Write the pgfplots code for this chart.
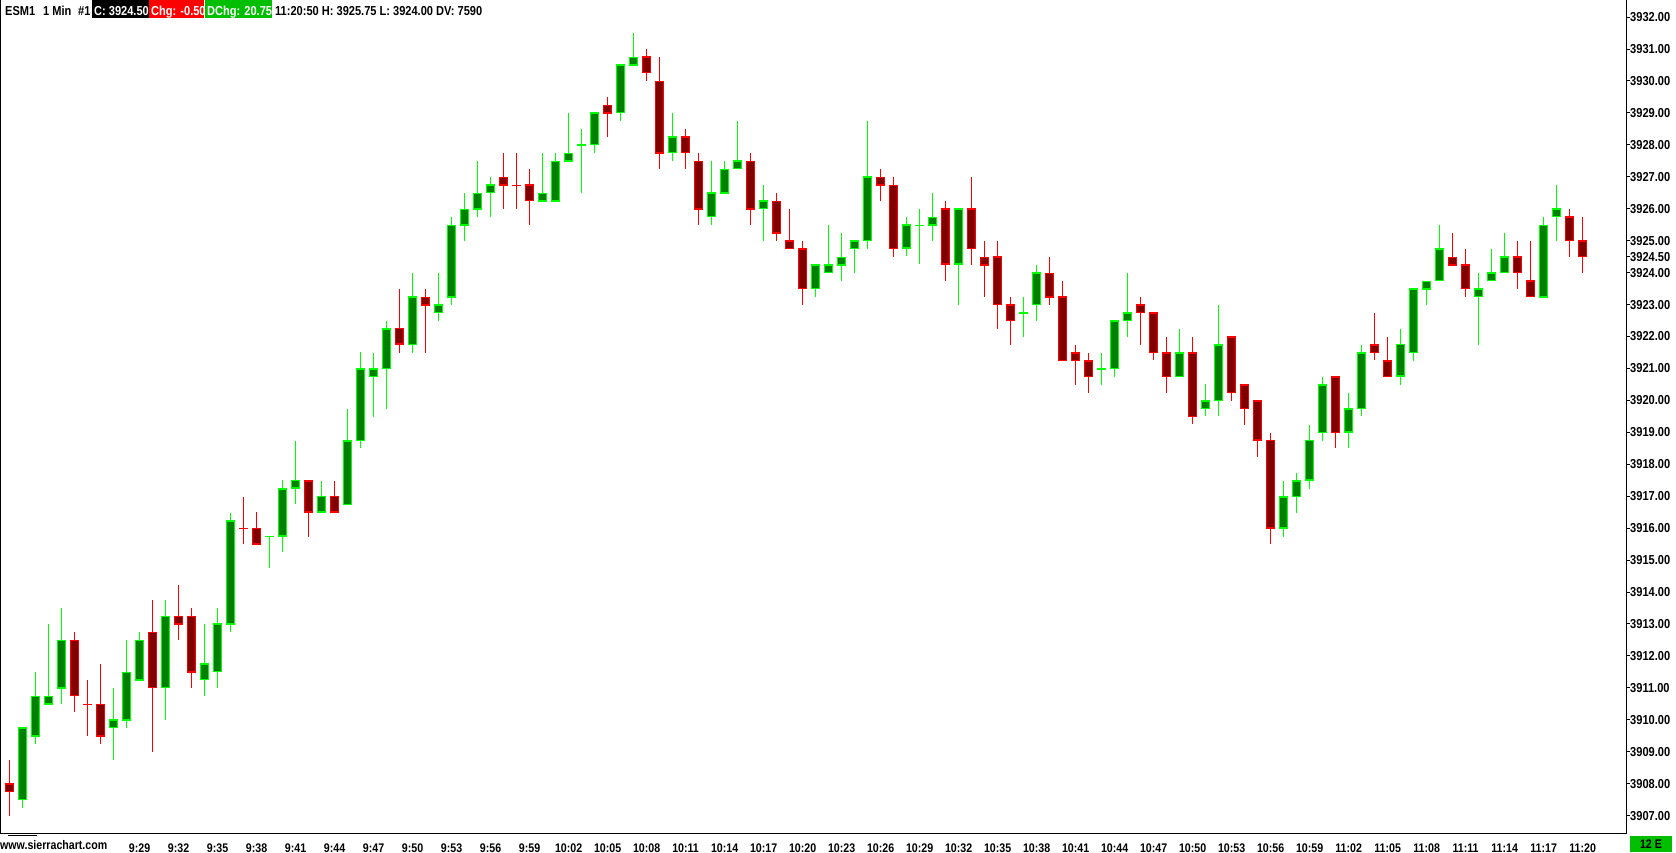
\documentclass[border=0pt]{standalone}
\usepackage{pgfplots}
\pgfplotsset{compat=1.18}
\usepackage{pgfplotstable}
\usepackage{fontspec}
\setmainfont{Liberation Sans}
\newfontfamily\chartfont[FakeStretch=0.85]{Liberation Sans}
\definecolor{gb}{RGB}{0,255,0}
\definecolor{gd}{RGB}{0,128,0}
\definecolor{rb}{RGB}{255,0,0}
\definecolor{rd}{RGB}{128,0,0}
\definecolor{hg}{RGB}{0,190,0}

\pgfplotstableread{
t O H L C
1 3907.5 3909.75 3907.25 3909.75
2 3909.5 3911.5 3909.25 3910.75
3 3910.5 3913.0 3910.5 3910.75
4 3911.0 3913.5 3910.5 3912.5
8 3909.75 3911.0 3908.75 3910.0
9 3910.0 3912.5 3909.75 3911.5
10 3911.25 3912.75 3911.25 3912.5
12 3911.0 3913.75 3910.0 3913.25
15 3911.25 3913.0 3910.75 3911.75
16 3911.5 3913.5 3911.0 3913.0
17 3913.0 3916.5 3912.75 3916.25
20 3915.75 3915.75 3914.75 3915.75
21 3915.75 3917.5 3915.25 3917.25
22 3917.25 3918.75 3916.75 3917.5
24 3916.5 3917.5 3916.5 3917.0
26 3916.75 3919.75 3916.75 3918.75
27 3918.75 3921.5 3918.5 3921.0
28 3920.75 3921.5 3919.5 3921.0
29 3921.0 3922.5 3919.75 3922.25
31 3921.75 3924.0 3921.5 3923.25
33 3922.75 3924.0 3922.5 3923.0
34 3923.25 3925.75 3923.0 3925.5
35 3925.5 3926.5 3925.0 3926.0
36 3926.0 3927.5 3925.75 3926.5
37 3926.5 3927.0 3925.75 3926.75
41 3926.25 3927.75 3926.25 3926.5
42 3926.25 3927.75 3926.25 3927.5
43 3927.5 3929.0 3927.5 3927.75
44 3928.0 3928.5 3926.5 3928.0
45 3928.0 3929.0 3927.75 3929.0
47 3929.0 3930.5 3928.75 3930.5
48 3930.5 3931.5 3930.5 3930.75
51 3927.75 3929.0 3927.5 3928.25
54 3925.75 3927.5 3925.5 3926.5
55 3926.5 3927.5 3926.5 3927.25
56 3927.25 3928.75 3927.25 3927.5
58 3926.0 3926.75 3925.0 3926.25
62 3923.5 3924.25 3923.25 3924.25
63 3924.0 3925.5 3924.0 3924.25
64 3924.25 3925.25 3923.75 3924.5
65 3924.75 3925.0 3924.0 3925.0
66 3925.0 3928.75 3924.75 3927.0
69 3924.75 3925.75 3924.5 3925.5
70 3925.5 3926.0 3924.25 3925.5
71 3925.5 3926.5 3925.0 3925.75
73 3924.25 3926.0 3923.0 3926.0
78 3922.75 3923.25 3922.0 3922.75
79 3923.0 3924.25 3922.5 3924.0
84 3921.0 3921.5 3920.5 3921.0
85 3921.0 3922.5 3920.75 3922.5
86 3922.5 3924.0 3922.0 3922.75
90 3920.75 3922.25 3920.75 3921.5
92 3919.75 3920.5 3919.5 3920.0
93 3920.0 3923.0 3919.5 3921.75
98 3916.0 3917.5 3915.75 3917.0
99 3917.0 3917.75 3916.5 3917.5
100 3917.5 3919.25 3917.25 3918.75
101 3919.0 3920.75 3918.75 3920.5
103 3919.0 3920.25 3918.5 3919.75
104 3919.75 3921.75 3919.5 3921.5
107 3920.75 3922.25 3920.5 3921.75
108 3921.5 3923.5 3921.25 3923.5
109 3923.5 3923.75 3923.0 3923.75
110 3923.75 3925.5 3923.75 3924.75
113 3923.25 3924.0 3921.75 3923.5
114 3923.75 3924.75 3923.75 3924.0
115 3924.0 3925.25 3924.0 3924.5
118 3923.25 3925.75 3923.25 3925.5
119 3925.75 3926.75 3925.0 3926.0
}\up

\pgfplotstableread{
t O H L C
0 3908.0 3908.75 3907.0 3907.75
5 3912.5 3912.75 3910.25 3910.75
6 3910.5 3911.25 3909.5 3910.5
7 3910.5 3911.75 3909.25 3909.5
11 3912.75 3913.75 3909.0 3911.0
13 3913.25 3914.25 3912.5 3913.0
14 3913.25 3913.5 3911.0 3911.5
18 3916.0 3917.0 3915.5 3916.0
19 3916.0 3916.5 3915.5 3915.5
23 3917.5 3917.5 3915.75 3916.5
25 3917.0 3917.5 3916.5 3916.5
30 3922.25 3923.5 3921.5 3921.75
32 3923.25 3923.5 3921.5 3923.0
38 3927.0 3927.75 3926.0 3926.75
39 3926.75 3927.75 3926.0 3926.75
40 3926.75 3927.25 3925.5 3926.25
46 3929.25 3929.5 3928.25 3929.0
49 3930.75 3931.0 3930.0 3930.25
50 3930.0 3930.75 3927.25 3927.75
52 3928.25 3928.5 3927.25 3927.75
53 3927.5 3927.75 3925.5 3926.0
57 3927.5 3927.75 3925.5 3926.0
59 3926.25 3926.5 3925.0 3925.25
60 3925.0 3926.0 3924.75 3924.75
61 3924.75 3925.0 3923.0 3923.5
67 3927.0 3927.25 3926.25 3926.75
68 3926.75 3927.0 3924.5 3924.75
72 3926.0 3926.25 3923.75 3924.25
74 3926.0 3927.0 3924.25 3924.75
75 3924.5 3925.0 3923.25 3924.25
76 3924.5 3925.0 3922.25 3923.0
77 3923.0 3923.25 3921.75 3922.5
80 3924.0 3924.5 3923.0 3923.25
81 3923.25 3923.75 3921.25 3921.25
82 3921.5 3921.75 3920.5 3921.25
83 3921.25 3921.5 3920.25 3920.75
87 3923.0 3923.25 3921.75 3922.75
88 3922.75 3922.75 3921.25 3921.5
89 3921.5 3922.0 3920.25 3920.75
91 3921.5 3922.0 3919.25 3919.5
94 3922.0 3922.0 3920.0 3920.25
95 3920.5 3920.5 3919.25 3919.75
96 3920.0 3920.0 3918.25 3918.75
97 3918.75 3919.0 3915.5 3916.0
102 3920.75 3920.75 3918.5 3919.0
105 3921.75 3922.75 3921.25 3921.5
106 3921.25 3922.0 3920.75 3920.75
111 3924.5 3925.25 3924.25 3924.25
112 3924.25 3924.75 3923.25 3923.5
116 3924.5 3925.0 3923.5 3924.0
117 3923.75 3925.0 3923.25 3923.25
120 3925.75 3926.0 3924.5 3925.0
121 3925.0 3925.75 3924.0 3924.5
}\down

\pgfplotsset{
  cbar/.style n args={2}{draw=none, mark=none, forget plot,
    error bars/.cd, y dir=both, y explicit, error mark=none,
    error bar style={draw=#1, solid, line width=#2, line cap=butt}},
}

\begin{document}
\begin{tikzpicture}
\path[use as bounding box] (0pt,0pt) rectangle (1676pt,852pt);
\begin{axis}[
  at={(0pt,19pt)}, anchor=south west,
  width=1626pt, height=833pt, scale only axis,
  xmin=-0.7385, xmax=124.338, ymin=3906.455, ymax=3932.535,
  clip=false,
  axis line style={draw=none},
  scaled y ticks=false,
  xtick={10,13,...,121},
  xticklabels={9:29,9:32,9:35,9:38,9:41,9:44,9:47,9:50,9:53,9:56,9:59,10:02,10:05,10:08,10:11,10:14,10:17,10:20,10:23,10:26,10:29,10:32,10:35,10:38,10:41,10:44,10:47,10:50,10:53,10:56,10:59,11:02,11:05,11:08,11:11,11:14,11:17,11:20},
  xtick style={draw=none},
  xticklabel style={font=\chartfont\bfseries\fontsize{12.5}{14}\selectfont, anchor=north, inner sep=0pt},
  xticklabel shift=6.5pt,
  ytick={3907,3908,3909,3910,3911,3912,3913,3914,3915,3916,3917,3918,3919,3920,3921,3922,3923,3924,3924.5,3925,3926,3927,3928,3929,3930,3931,3932},
  ytick pos=right, yticklabel pos=right,
  tick align=outside, major tick length=4pt,
  ytick style={black, line width=1pt},
  yticklabel style={font=\chartfont\bfseries\fontsize{13}{15}\selectfont, anchor=west, inner sep=0pt,
    /pgf/number format/.cd, fixed, fixed zerofill, precision=2, 1000 sep={}, assume math mode=true},
]
% wicks
\addplot[cbar={gb}{1pt}] table[x=t, y expr={(\thisrow{H}+\thisrow{L})/2}, y error expr={(\thisrow{H}-\thisrow{L})/2}] {\up};
\addplot[cbar={rb}{1pt}] table[x=t, y expr={(\thisrow{H}+\thisrow{L})/2}, y error expr={(\thisrow{H}-\thisrow{L})/2}] {\down};
% body borders
\addplot[cbar={gb}{9pt}] table[x=t, y expr={(\thisrow{O}+\thisrow{C})/2}, y error expr={abs(\thisrow{O}-\thisrow{C})/2+0.016}] {\up};
\addplot[cbar={rb}{9pt}] table[x=t, y expr={(\thisrow{O}+\thisrow{C})/2}, y error expr={abs(\thisrow{O}-\thisrow{C})/2+0.016}] {\down};
% body fills
\addplot[cbar={gd}{7pt}] table[x=t, y expr={(\thisrow{O}+\thisrow{C})/2}, y error expr={max(abs(\thisrow{O}-\thisrow{C})/2-0.031,0)}] {\up};
\addplot[cbar={rd}{7pt}] table[x=t, y expr={(\thisrow{O}+\thisrow{C})/2}, y error expr={max(abs(\thisrow{O}-\thisrow{C})/2-0.031,0)}] {\down};
\draw[black, line width=1pt] (rel axis cs:0,1) -- (rel axis cs:0,0) -- (rel axis cs:1,0) -- (rel axis cs:1,1);
\end{axis}
% header
\begin{scope}[every node/.style={inner sep=0pt, anchor=base west, font=\chartfont\bfseries\fontsize{13}{15}\selectfont}]
\node at (5pt,836.5pt) {ESM1};
\node at (43pt,836.5pt) {1 Min};
\node at (78pt,836.5pt) {\#1};
\fill[black] (92pt,834pt) rectangle (148.6pt,852pt);
\node[text=white] at (94pt,836.5pt) {C: 3924.50};
\fill[rb] (149.4pt,834pt) rectangle (204.3pt,852pt);
\node[text=white] at (151pt,836.5pt) {Chg: -0.50};
\fill[hg] (205pt,834pt) rectangle (272pt,852pt);
\node[text=white] at (207pt,836.5pt) {DChg: 20.75};
\node at (275pt,836.5pt) {11:20:50 H: 3925.75 L: 3924.00 DV: 7590};
\node[font=\chartfont\bfseries\fontsize{12.5}{14}\selectfont] at (0pt,3pt) {www.sierrachart.com};
\fill[hg] (1630pt,0pt) rectangle (1672pt,16pt);
\node[anchor=base, font=\chartfont\bfseries\fontsize{12.5}{14}\selectfont] at (1651pt,3.5pt) {12 E};
\end{scope}
\draw[black, line width=1pt] (8pt,17pt) -- (37pt,17pt);
\end{tikzpicture}
\end{document}
